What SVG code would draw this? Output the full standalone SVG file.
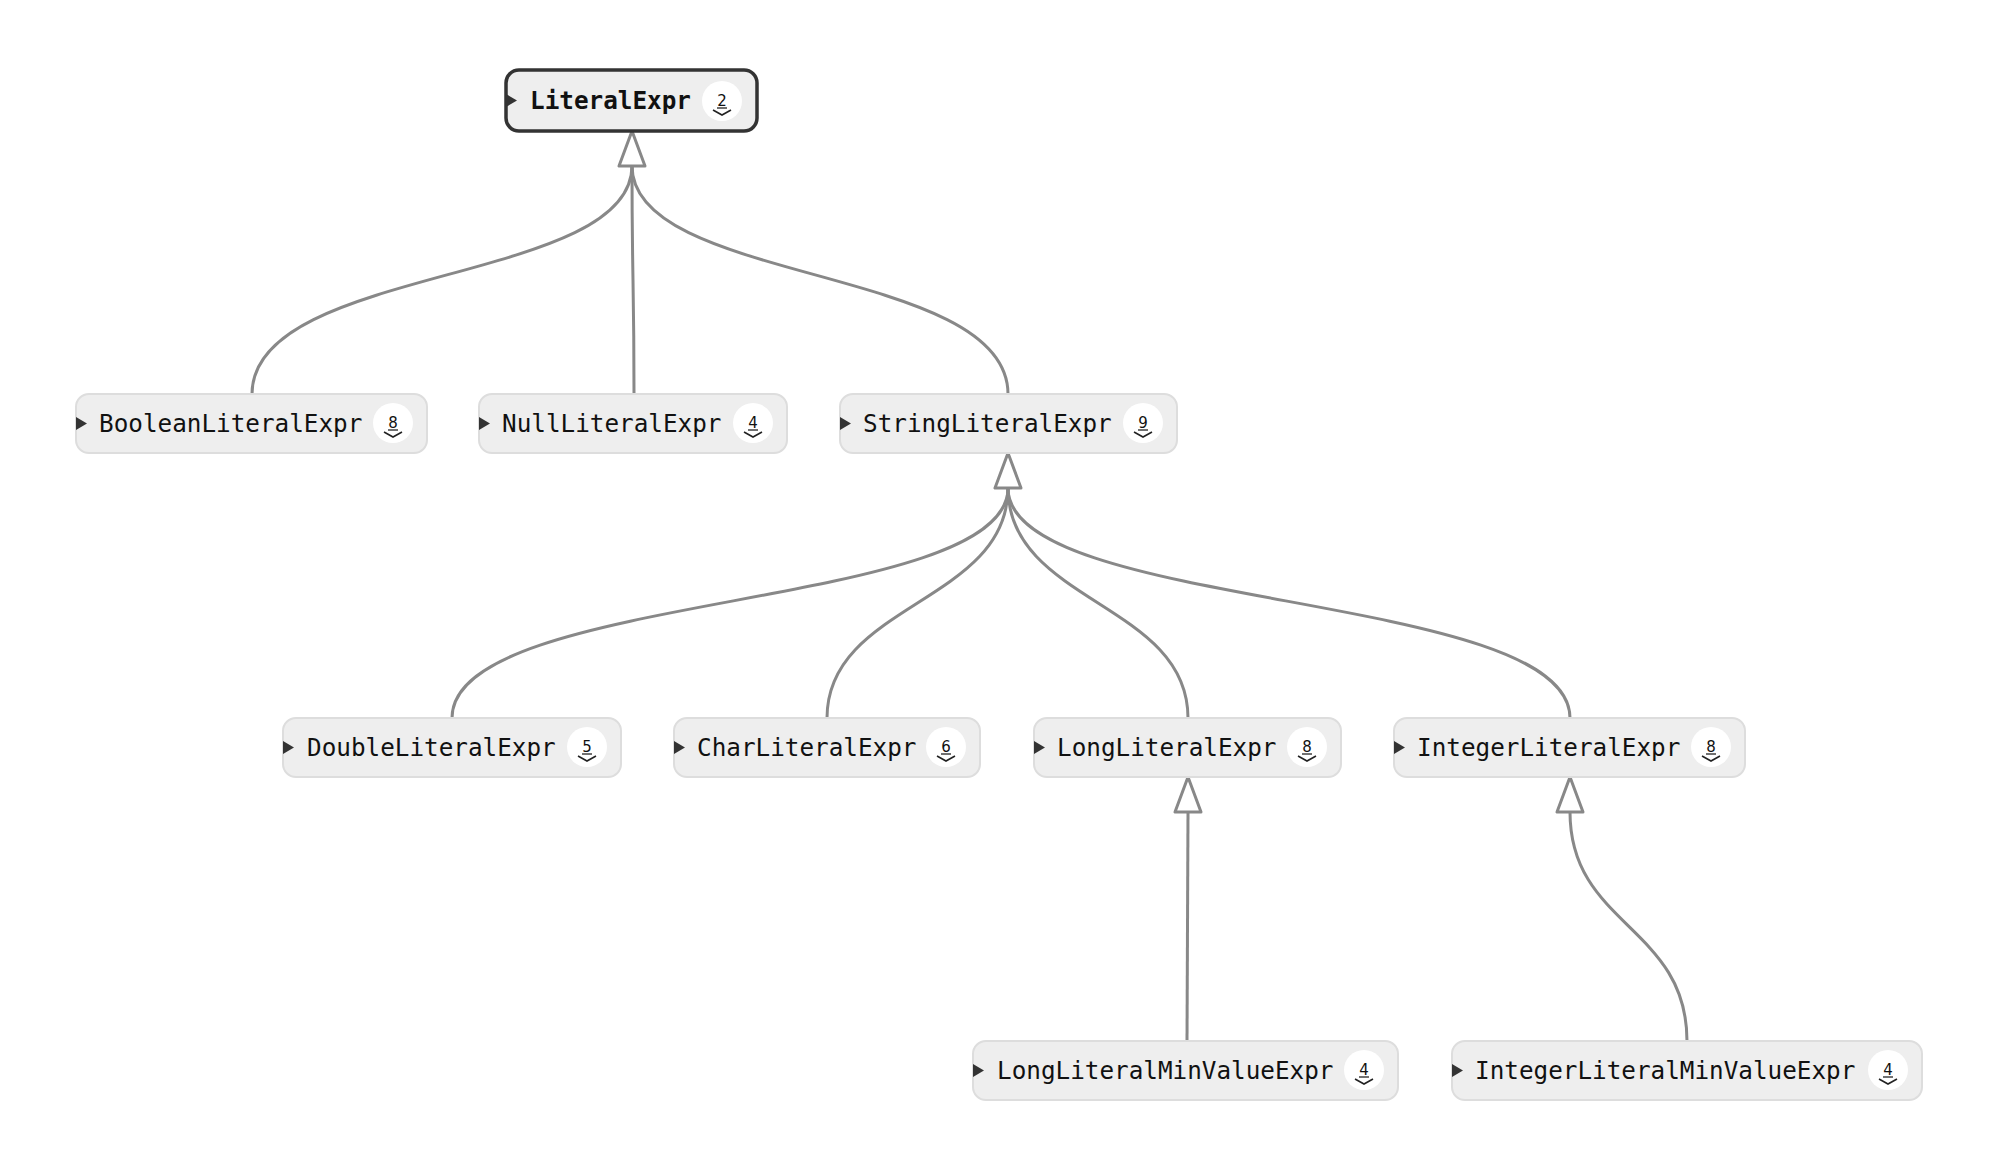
<svg xmlns="http://www.w3.org/2000/svg" width="2004" height="1160" viewBox="0 0 2004 1160">
<style>
.node rect.box{fill:#eeeeee;stroke:#dddddd;stroke-width:2}
.root rect.box{fill:#eeeeee;stroke:#333333;stroke-width:3.5}
.lbl{font-family:"DejaVu Sans Mono","Liberation Mono",monospace;font-size:24.3px;fill:#111111}
.root .lbl{font-weight:bold}
.cnt{font-family:"DejaVu Sans","Liberation Sans",sans-serif;font-size:15px;fill:#111111;text-anchor:middle}
.badge{fill:#ffffff}
.chev{fill:none;stroke:#222222;stroke-width:1.6}
.ul{stroke:#222222;stroke-width:1.3}
.tri{fill:#333333}
.edge{fill:none;stroke:#888888;stroke-width:3}
.arr{fill:#ffffff;stroke:#888888;stroke-width:3;stroke-linejoin:round}
</style>
<rect width="2004" height="1160" fill="#ffffff"/>
<g id="connectors">
<path class="edge" d="M252,394 C252,265 632,285 632,166"/>
<path class="edge" d="M634,394 C634,280 632,280 632,166"/>
<path class="edge" d="M1008,394 C1008,265 632,285 632,166"/>
<polygon class="arr" points="632,131 619,166 645,166"/>
<path class="edge" d="M452,718 C452,590 1008,612 1008,488"/>
<path class="edge" d="M827,718 C827,603 1008,603 1008,488"/>
<path class="edge" d="M1188,718 C1188,603 1008,603 1008,488"/>
<path class="edge" d="M1570,718 C1570,590 1008,612 1008,488"/>
<polygon class="arr" points="1008,453 995,488 1021,488"/>
<path class="edge" d="M1187,1041 L1188,812"/>
<polygon class="arr" points="1188,777 1175,812 1201,812"/>
<path class="edge" d="M1687,1041 C1687,926 1570,926 1570,812"/>
<polygon class="arr" points="1570,777 1557,812 1583,812"/>
</g>
<g id="LiteralExpr" class="node root">
<rect class="box" x="506" y="70" width="251" height="61" rx="13"/>
<polygon class="tri" points="506,94 517,100.5 506,107"/>
<text class="lbl" x="530" y="109">LiteralExpr</text>
<circle class="badge" cx="722" cy="101" r="20"/>
<text class="cnt" x="722" y="106">2</text>
<line class="ul" x1="717" y1="108" x2="727" y2="108"/>
<polyline class="chev" points="713,110 722,115 731,110"/>
</g>
<g id="BooleanLiteralExpr" class="node">
<rect class="box" x="76" y="394" width="351" height="59" rx="13"/>
<polygon class="tri" points="76,417 87,423.5 76,430"/>
<text class="lbl" x="99" y="432">BooleanLiteralExpr</text>
<circle class="badge" cx="393" cy="423" r="20"/>
<text class="cnt" x="393" y="428">8</text>
<line class="ul" x1="388" y1="430" x2="398" y2="430"/>
<polyline class="chev" points="384,432 393,437 402,432"/>
</g>
<g id="NullLiteralExpr" class="node">
<rect class="box" x="479" y="394" width="308" height="59" rx="13"/>
<polygon class="tri" points="479,417 490,423.5 479,430"/>
<text class="lbl" x="502" y="432">NullLiteralExpr</text>
<circle class="badge" cx="753" cy="423" r="20"/>
<text class="cnt" x="753" y="428">4</text>
<line class="ul" x1="748" y1="430" x2="758" y2="430"/>
<polyline class="chev" points="744,432 753,437 762,432"/>
</g>
<g id="StringLiteralExpr" class="node">
<rect class="box" x="840" y="394" width="337" height="59" rx="13"/>
<polygon class="tri" points="840,417 851,423.5 840,430"/>
<text class="lbl" x="863" y="432">StringLiteralExpr</text>
<circle class="badge" cx="1143" cy="423" r="20"/>
<text class="cnt" x="1143" y="428">9</text>
<line class="ul" x1="1138" y1="430" x2="1148" y2="430"/>
<polyline class="chev" points="1134,432 1143,437 1152,432"/>
</g>
<g id="DoubleLiteralExpr" class="node">
<rect class="box" x="283" y="718" width="338" height="59" rx="13"/>
<polygon class="tri" points="283,741 294,747.5 283,754"/>
<text class="lbl" x="307" y="756">DoubleLiteralExpr</text>
<circle class="badge" cx="587" cy="747" r="20"/>
<text class="cnt" x="587" y="752">5</text>
<line class="ul" x1="582" y1="754" x2="592" y2="754"/>
<polyline class="chev" points="578,756 587,761 596,756"/>
</g>
<g id="CharLiteralExpr" class="node">
<rect class="box" x="674" y="718" width="306" height="59" rx="13"/>
<polygon class="tri" points="674,741 685,747.5 674,754"/>
<text class="lbl" x="697" y="756">CharLiteralExpr</text>
<circle class="badge" cx="946" cy="747" r="20"/>
<text class="cnt" x="946" y="752">6</text>
<line class="ul" x1="941" y1="754" x2="951" y2="754"/>
<polyline class="chev" points="937,756 946,761 955,756"/>
</g>
<g id="LongLiteralExpr" class="node">
<rect class="box" x="1034" y="718" width="307" height="59" rx="13"/>
<polygon class="tri" points="1034,741 1045,747.5 1034,754"/>
<text class="lbl" x="1057" y="756">LongLiteralExpr</text>
<circle class="badge" cx="1307" cy="747" r="20"/>
<text class="cnt" x="1307" y="752">8</text>
<line class="ul" x1="1302" y1="754" x2="1312" y2="754"/>
<polyline class="chev" points="1298,756 1307,761 1316,756"/>
</g>
<g id="IntegerLiteralExpr" class="node">
<rect class="box" x="1394" y="718" width="351" height="59" rx="13"/>
<polygon class="tri" points="1394,741 1405,747.5 1394,754"/>
<text class="lbl" x="1417" y="756">IntegerLiteralExpr</text>
<circle class="badge" cx="1711" cy="747" r="20"/>
<text class="cnt" x="1711" y="752">8</text>
<line class="ul" x1="1706" y1="754" x2="1716" y2="754"/>
<polyline class="chev" points="1702,756 1711,761 1720,756"/>
</g>
<g id="LongLiteralMinValueExpr" class="node">
<rect class="box" x="973" y="1041" width="425" height="59" rx="13"/>
<polygon class="tri" points="973,1064 984,1070.5 973,1077"/>
<text class="lbl" x="997" y="1079">LongLiteralMinValueExpr</text>
<circle class="badge" cx="1364" cy="1070" r="20"/>
<text class="cnt" x="1364" y="1075">4</text>
<line class="ul" x1="1359" y1="1077" x2="1369" y2="1077"/>
<polyline class="chev" points="1355,1079 1364,1084 1373,1079"/>
</g>
<g id="IntegerLiteralMinValueExpr" class="node">
<rect class="box" x="1452" y="1041" width="470" height="59" rx="13"/>
<polygon class="tri" points="1452,1064 1463,1070.5 1452,1077"/>
<text class="lbl" x="1475" y="1079">IntegerLiteralMinValueExpr</text>
<circle class="badge" cx="1888" cy="1070" r="20"/>
<text class="cnt" x="1888" y="1075">4</text>
<line class="ul" x1="1883" y1="1077" x2="1893" y2="1077"/>
<polyline class="chev" points="1879,1079 1888,1084 1897,1079"/>
</g>
</svg>
